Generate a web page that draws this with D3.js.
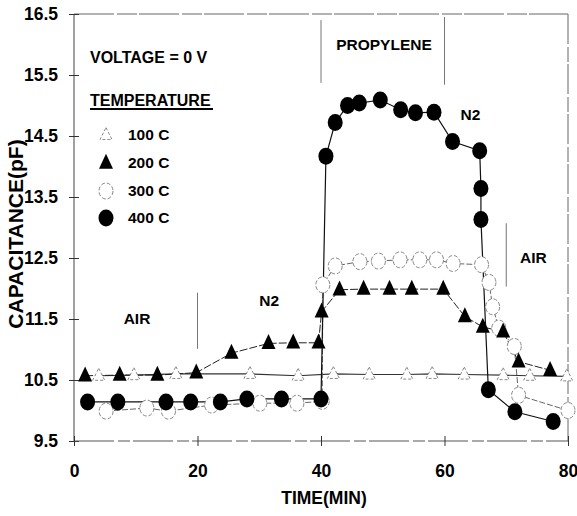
<!DOCTYPE html>
<html>
<head>
<meta charset="utf-8">
<script src="https://cdn.jsdelivr.net/npm/d3@7"></script>
<style>
  html, body { margin: 0; padding: 0; background: #fff; }
  svg text { font-family: "Liberation Sans", Arial, sans-serif; font-weight: bold; fill: #000; }
</style>
</head>
<body>
<svg id="chart" width="577" height="516"></svg>
<script>
// ---- data ----
const xTicks = [0, 20, 40, 60, 80];
const yTicks = [9.5, 10.5, 11.5, 12.5, 13.5, 14.5, 15.5, 16.5];

const t100 = [4.0, 9.7, 16.5, 28.5, 36.3, 42.0, 47.8, 53.9, 58.0, 63.2, 69.5, 73.8, 79.8];
const v100 = [10.57, 10.58, 10.60, 10.60, 10.57, 10.60, 10.59, 10.59, 10.60, 10.59, 10.58, 10.57, 10.56];

const t200 = [1.8, 7.4, 13.5, 19.8, 25.5, 31.5, 35.5, 39.6, 40.1, 43.0, 46.9, 51.1, 54.7, 59.8, 63.3, 66.2, 69.5, 72.0, 77.1];
const v200 = [10.57, 10.58, 10.58, 10.62, 10.94, 11.10, 11.11, 11.11, 11.62, 11.98, 11.99, 11.99, 11.99, 11.99, 11.54, 11.37, 11.29, 10.80, 10.66];

const t300 = [5.2, 11.8, 15.3, 22.3, 30.1, 36.1, 40.2, 40.3, 42.3, 46.3, 49.3, 52.8, 56.0, 58.7, 61.4, 66.0, 67.2, 67.8, 68.8, 71.3, 72.0, 80.0];
const v300 = [9.99, 10.04, 9.99, 10.09, 10.12, 10.12, 10.15, 12.06, 12.37, 12.44, 12.45, 12.47, 12.47, 12.47, 12.41, 12.39, 12.10, 11.70, 11.35, 11.05, 10.25, 10.00];

const t400 = [2.2, 7.1, 14.9, 18.9, 23.7, 28.0, 33.6, 40.0, 40.8, 42.3, 44.3, 46.2, 49.6, 52.9, 55.3, 58.3, 61.3, 65.7, 65.9, 65.9, 67.1, 71.4, 77.6];
const v400 = [10.14, 10.14, 10.14, 10.14, 10.14, 10.19, 10.19, 10.19, 14.17, 14.72, 15.00, 15.04, 15.09, 14.93, 14.88, 14.89, 14.41, 14.26, 13.64, 13.13, 10.34, 9.98, 9.82];

const legendLabels = ["100 C", "200 C", "300 C", "400 C"];

// gas-phase annotations: [label, time, value]
const phaseLabels = [["AIR", 10.2, 11.5], ["N2", 31.6, 11.8], ["PROPYLENE", 50.2, 16.0], ["N2", 64.2, 14.85], ["AIR", 74.4, 12.5]];
// divider lines: [time, valueFrom, valueTo]
const dividers = [[20, 11.93, 11.01], [40, 16.40, 15.37], [60, 16.45, 15.34], [70, 13.07, 12.03]];

// ---- chart ----
const svg = d3.select("#chart");
const x = d3.scaleLinear().domain([0, 80]).range([74, 568]);
const y = d3.scaleLinear().domain([9.5, 16.5]).range([441, 14]);

const frame = svg.append("g");
frame.append("line").attr("x1", x(0)).attr("x2", x(80)).attr("y1", y(16.5)).attr("y2", y(16.5))
  .attr("stroke", "#666").attr("stroke-width", 1).attr("stroke-dasharray", "40,3,20,2");
frame.append("line").attr("x1", x(80)).attr("x2", x(80)).attr("y1", y(16.5)).attr("y2", y(9.5))
  .attr("stroke", "#666").attr("stroke-width", 1).attr("stroke-dasharray", "30,3,15,2");

// axes
const yAxis = svg.append("g").attr("transform", `translate(${x(0)},0)`)
  .call(d3.axisLeft(y).tickValues(yTicks).tickFormat(d3.format(".1f")).tickSize(5).tickPadding(11));
yAxis.selectAll(".tick line").attr("x1", -5).attr("x2", 5).attr("stroke", "#333");
yAxis.select(".domain").attr("stroke", "#444").attr("d", `M0,${y(16.5)}V${y(9.5)}`);
yAxis.selectAll("text").attr("font-size", 17.5).attr("font-family", "Liberation Sans, Arial, sans-serif").attr("font-weight", "bold");

const xAxis = svg.append("g").attr("transform", `translate(0,${y(9.5)})`)
  .call(d3.axisBottom(x).tickValues(xTicks).tickFormat(d3.format("d")).tickSize(5).tickPadding(19));
xAxis.selectAll(".tick line").attr("y1", -5).attr("y2", 5).attr("stroke", "#333");
xAxis.select(".domain").attr("stroke", "#555").attr("stroke-dasharray", "40,4,12,3").attr("d", `M${x(0)},0H${x(80)}`);
xAxis.selectAll("text").attr("font-size", 17.5).attr("font-family", "Liberation Sans, Arial, sans-serif").attr("font-weight", "bold");

// axis titles
svg.append("text").attr("x", (x(0) + x(80)) / 2 + 3).attr("y", 504).attr("text-anchor", "middle")
  .attr("font-size", 17.5).text("TIME(MIN)");
svg.append("text").attr("transform", `translate(23,234) rotate(-90)`).attr("text-anchor", "middle")
  .attr("font-size", 21).text("CAPACITANCE(pF)");

// dividers
svg.append("g").selectAll("line").data(dividers).join("line")
  .attr("x1", d => x(d[0])).attr("x2", d => x(d[0]))
  .attr("y1", d => y(d[1])).attr("y2", d => y(d[2]))
  .attr("stroke", "#777").attr("stroke-width", 1);

// phase labels
svg.append("g").selectAll("text").data(phaseLabels).join("text")
  .attr("x", d => x(d[1])).attr("y", d => y(d[2])).attr("dy", "0.35em")
  .attr("text-anchor", "middle").attr("font-size", 15.5).text(d => d[0]);

// series
const zip = (ts, vs) => ts.map((t, i) => [t, vs[i]]);
const d100 = zip(t100, v100), d200 = zip(t200, v200), d300 = zip(t300, v300), d400 = zip(t400, v400);
const line = d3.line().x(d => x(d[0])).y(d => y(d[1]));

svg.append("path").datum(d100).attr("d", line).attr("fill", "none").attr("stroke", "#333").attr("stroke-width", 1.2);
svg.append("path").datum(d300).attr("d", line).attr("fill", "none").attr("stroke", "#666").attr("stroke-width", 1).attr("stroke-dasharray", "6,2");
svg.append("path").datum(d200).attr("d", line).attr("fill", "none").attr("stroke", "#222").attr("stroke-width", 1).attr("stroke-dasharray", "8,2");
svg.append("path").datum(d400).attr("d", line).attr("fill", "none").attr("stroke", "#111").attr("stroke-width", 1.2);

const triPath = (w, h) => `M0,${-h * 0.62}L${w / 2},${h * 0.38}L${-w / 2},${h * 0.38}Z`;

function openTri(g, px, py) {
  g.append("path").attr("transform", `translate(${px},${py})`).attr("d", triPath(12, 12))
    .attr("fill", "#fff").attr("stroke", "#888").attr("stroke-width", 1).attr("stroke-dasharray", "3,2");
}
function fillTri(g, px, py) {
  g.append("path").attr("transform", `translate(${px},${py})`).attr("d", triPath(14, 15)).attr("fill", "#000");
}
function openCirc(g, px, py) {
  g.append("ellipse").attr("cx", px).attr("cy", py).attr("rx", 7).attr("ry", 8)
    .attr("fill", "#fff").attr("stroke", "#888").attr("stroke-width", 1).attr("stroke-dasharray", "4,2");
}
function fillCirc(g, px, py) {
  g.append("ellipse").attr("cx", px).attr("cy", py).attr("rx", 7.5).attr("ry", 8.5).attr("fill", "#000");
}

const m100 = svg.append("g"); d100.forEach(d => openTri(m100, x(d[0]), y(d[1])));
const m300 = svg.append("g"); d300.forEach(d => openCirc(m300, x(d[0]), y(d[1])));
const m200 = svg.append("g"); d200.forEach(d => fillTri(m200, x(d[0]), y(d[1])));
const m400 = svg.append("g"); d400.forEach(d => fillCirc(m400, x(d[0]), y(d[1])));

// legend
const lg = svg.append("g");
lg.append("text").attr("x", 90).attr("y", 63).attr("font-size", 16).text("VOLTAGE = 0 V");
lg.append("text").attr("x", 90).attr("y", 106).attr("font-size", 16).text("TEMPERATURE");
lg.append("line").attr("x1", 90).attr("x2", 213).attr("y1", 109).attr("y2", 109).attr("stroke", "#000").attr("stroke-width", 2);
const rowY = [135, 163, 191, 218];
const drawers = [openTri, fillTri, openCirc, fillCirc];
legendLabels.forEach((lab, i) => {
  drawers[i](lg, 106, rowY[i]);
  lg.append("text").attr("x", 128).attr("y", rowY[i]).attr("dy", "0.35em").attr("font-size", 15.5).text(lab);
});
</script>
</body>
</html>
